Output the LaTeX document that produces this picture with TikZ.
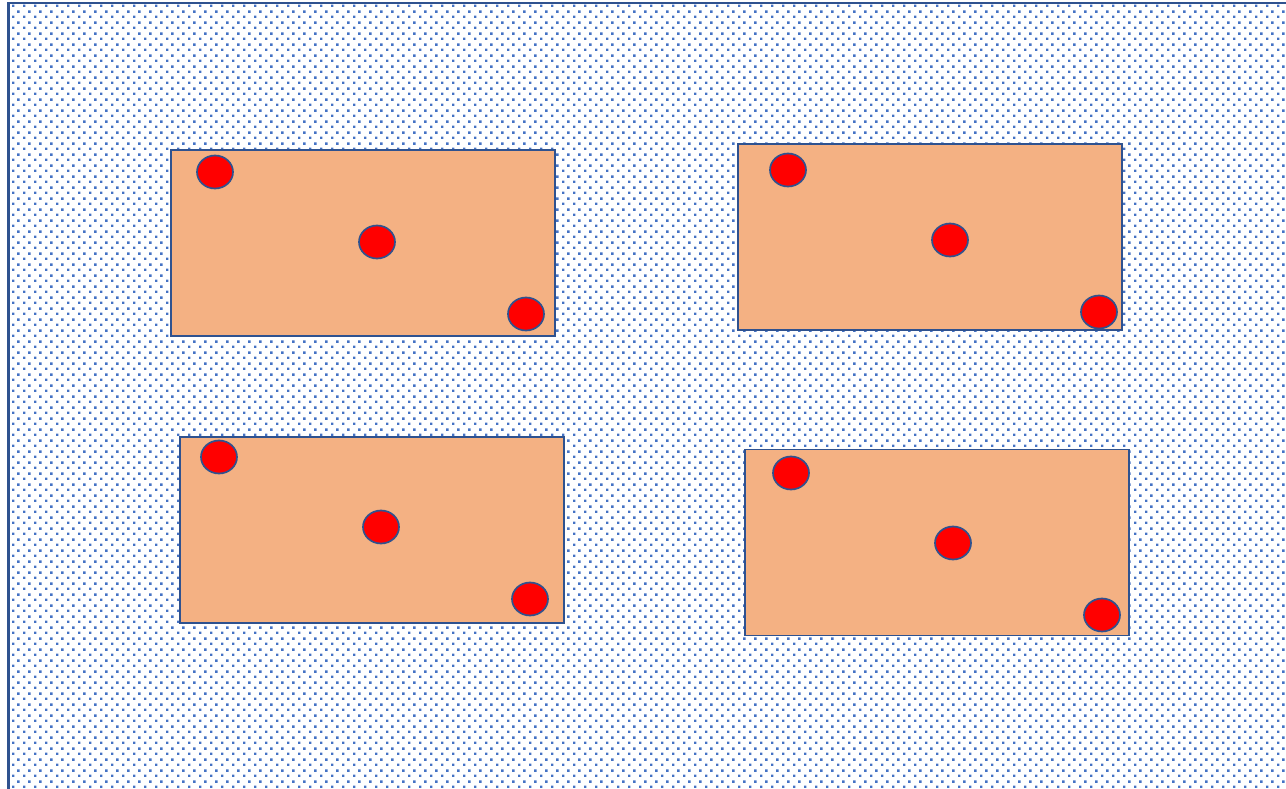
\documentclass[tikz,border=0pt]{standalone}
\usepackage{xcolor}
\usepackage{tikz}
\usetikzlibrary{shapes.geometric,patterns.meta}

\definecolor{frameblue}{HTML}{2F528F}
\definecolor{dotblue}{HTML}{4472C4}
\definecolor{platefill}{HTML}{F4B183}

\tikzdeclarepattern{
    name=stagdots,
    type=uncolored,
    bounding box={(0pt,0pt) and (11pt,11pt)},
    tile size={(11pt,11pt)},
    code={
        \fill (1.2pt,1.2pt) rectangle (3.8pt,3.8pt);
        \fill (6.7pt,6.7pt) rectangle (9.3pt,9.3pt);
    }
}

\begin{document}
\begin{tikzpicture}[
    x=1pt, y=-1pt,
    board/.style={draw=frameblue, line width=2.6pt, pattern=stagdots, pattern color=dotblue},
    plate/.style={rectangle, draw=frameblue, fill=platefill, line width=1.6pt, minimum width=384pt, minimum height=186pt, inner sep=0pt},
    hole/.style={ellipse, draw=frameblue, fill=red, line width=1.7pt, minimum width=36pt, minimum height=33pt, inner sep=0pt}
]
    \useasboundingbox (0,0) rectangle (1286,788);
    \clip (0,0) rectangle (1286,788);
    \draw [board] (8.5,3) rectangle (1310,810);

    % plates
    \node [plate] (p1) at (363,243) {};
    \node [plate] (p2) at (930,237) {};
    \node [plate] (p3) at (372,530) {};
    \node [plate] (p4) at (937,542.5) {};

    % holes
    \node [hole] (p1a) at (215,172) {};
    \node [hole] (p1b) at (377,242) {};
    \node [hole] (p1c) at (526,314) {};

    \node [hole] (p2a) at (788,170) {};
    \node [hole] (p2b) at (950,240) {};
    \node [hole] (p2c) at (1099,312) {};

    \node [hole] (p3a) at (219,457) {};
    \node [hole] (p3b) at (381,527) {};
    \node [hole] (p3c) at (530,599) {};

    \node [hole] (p4a) at (791,473) {};
    \node [hole] (p4b) at (953,543) {};
    \node [hole] (p4c) at (1102,615) {};
\end{tikzpicture}
\end{document}
